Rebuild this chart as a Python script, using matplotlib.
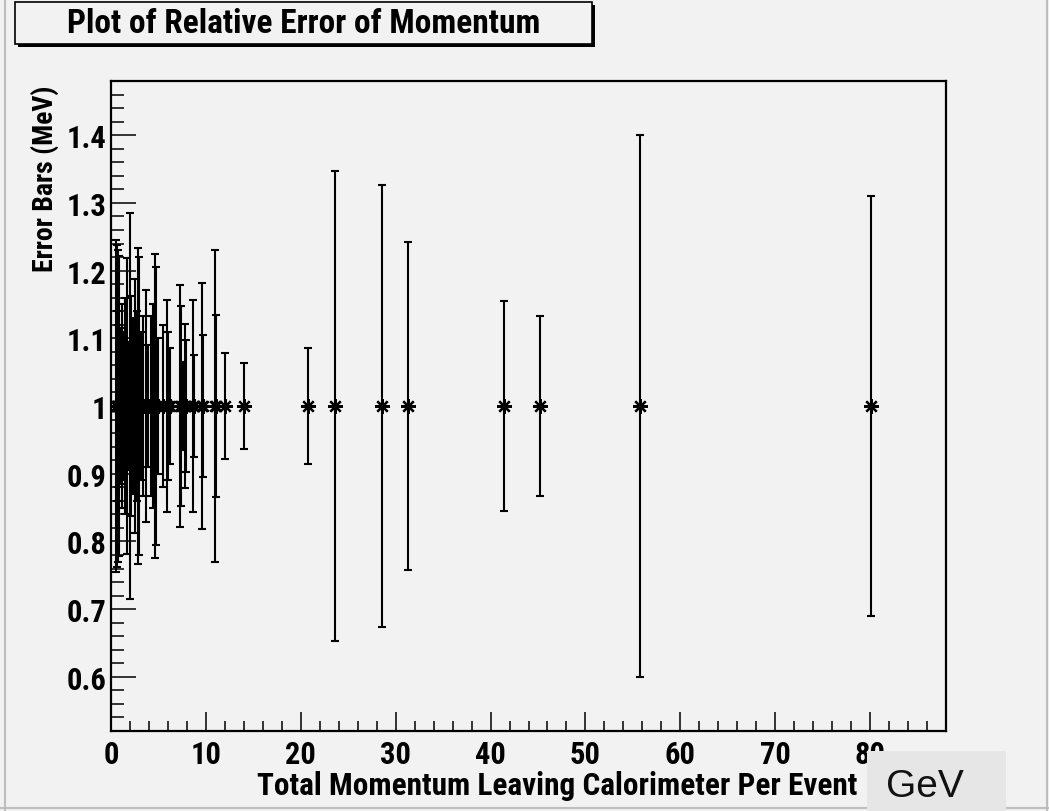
import numpy as np
import matplotlib
matplotlib.use("Agg")
import matplotlib.pyplot as plt
from matplotlib.patches import Rectangle
from matplotlib.lines import Line2D
from matplotlib.ticker import MultipleLocator, FuncFormatter

# --- data: momentum per event (GeV) and relative error ---
momentum = [0.5, 0.6, 0.65, 0.7, 0.75, 0.8, 0.9,
            1.2, 1.3, 1.5, 1.7, 1.9,
            2.0, 2.1, 2.3, 2.5, 2.7, 2.85,
            3.0, 3.2, 3.4, 3.7, 3.9,
            4.2, 4.4, 4.6, 4.75,
            5.0, 5.5, 5.9,
            6.0, 6.2,
            7.3, 7.4, 7.6, 7.8, 7.9,
            8.6, 8.7,
            9.6, 9.7,
            11.0, 11.1,
            12.0, 14.0,
            20.8, 23.6, 28.6, 31.3,
            41.4, 45.2, 55.8, 80.1]
rel_error = [1.0, 1.0, 1.0, 1.0, 1.0, 1.0, 1.0,
             1.0, 1.0, 1.0, 1.0, 1.0,
             1.0, 1.0, 1.0, 1.0, 1.0, 1.0,
             1.0, 1.0, 1.0, 1.0, 1.0,
             1.0, 1.0, 1.0, 1.0,
             1.0, 1.0, 1.0,
             1.0, 1.0,
             1.0, 1.0, 1.0, 1.0, 1.0,
             1.0, 1.0,
             1.0, 1.0,
             1.0, 1.0,
             1.0, 1.0,
             1.0, 1.0, 1.0, 1.0,
             1.0, 1.0, 1.0, 1.0]
err_bars = [0.245, 0.238, 0.140, 0.230, 0.120, 0.222, 0.115,
            0.150, 0.110, 0.160, 0.218, 0.095,
            0.285, 0.163, 0.130, 0.188, 0.140, 0.233,
            0.220, 0.110, 0.133, 0.172, 0.090,
            0.133, 0.150, 0.224, 0.205,
            0.100, 0.120, 0.157,
            0.110, 0.086,
            0.179, 0.147, 0.065, 0.121, 0.098,
            0.157, 0.076,
            0.182, 0.105,
            0.230, 0.135,
            0.078, 0.063,
            0.086, 0.347, 0.326, 0.242,
            0.155, 0.133, 0.400, 0.310]

title = "Plot of Relative Error of Momentum"
x_title = "Total Momentum Leaving Calorimeter Per Event"
y_title = "Error Bars (MeV)"
unit = "GeV"

bg = "#f2f2f2"
W, H = 1049, 812
narrow = ["Roboto Condensed", "PT Sans Narrow", "DejaVu Sans"]
bold = dict(family=narrow, weight="bold")

fig = plt.figure(figsize=(W / 100, H / 100), dpi=100, facecolor=bg)
ax = fig.add_axes([111 / W, 1 - 732 / H, (946 - 111) / W, (732 - 82) / H])
ax.set_facecolor(bg)

ax.errorbar(momentum, rel_error, yerr=err_bars, fmt="none", ecolor="black",
            elinewidth=1.5, capsize=2.6, capthick=1.5)
ax.plot(momentum, rel_error, linestyle="none", marker=(8, 2, 0),
        markersize=10.5, markeredgewidth=1.6, color="black")

ax.set_xlim(0, 88)
ax.set_ylim(0.52, 1.48)

ax.xaxis.set_major_locator(MultipleLocator(10))
ax.xaxis.set_minor_locator(MultipleLocator(2))
ax.yaxis.set_major_locator(MultipleLocator(0.1))
ax.yaxis.set_minor_locator(MultipleLocator(0.02))
ax.yaxis.set_major_formatter(FuncFormatter(lambda v, p: "%g" % round(v, 2)))

ax.tick_params(axis="x", which="major", direction="in", length=14, width=1.1,
               pad=6, labelsize=22)
ax.tick_params(axis="x", which="minor", direction="in", length=7, width=1.1)
ax.tick_params(axis="y", which="major", direction="in", length=18, width=1.1,
               pad=3, labelsize=22)
ax.tick_params(axis="y", which="minor", direction="in", length=9, width=1.1)
for lab in ax.get_xticklabels() + ax.get_yticklabels():
    lab.set_fontfamily(narrow)
    lab.set_fontweight("bold")

for s in ax.spines.values():
    s.set_linewidth(1.6)
    s.set_color("black")

# axis titles, aligned to the far end of each axis (ROOT style)
fig.text(857 / W, 1 - 786 / H, x_title, ha="right", va="center", fontsize=22.5, **bold)
fig.text(45 / W, 1 - 85 / H, y_title, ha="center", va="top", rotation=90,
         fontsize=20, **bold)

# title box with drop shadow
tb = (15, 3, 592, 45)
fig.add_artist(Rectangle(((tb[0] + 3) / W, 1 - (tb[3] + 3) / H),
                         (tb[2] - tb[0]) / W, (tb[3] - tb[1]) / H,
                         transform=fig.transFigure, facecolor="black",
                         edgecolor="none", zorder=5))
fig.add_artist(Rectangle((tb[0] / W, 1 - tb[3] / H),
                         (tb[2] - tb[0]) / W, (tb[3] - tb[1]) / H,
                         transform=fig.transFigure, facecolor=bg,
                         edgecolor="black", linewidth=1.2, zorder=6))
fig.text((tb[0] + tb[2]) / 2 / W, 1 - (tb[1] + tb[3]) / 2 / H, title,
         ha="center", va="center", fontsize=24, zorder=7, **bold)

# unit box in the lower right corner
fig.add_artist(Rectangle((867 / W, 0), (1006 - 867) / W, (812 - 752) / H,
                         transform=fig.transFigure, facecolor="#e6e6e6",
                         edgecolor="none", zorder=8))
fig.text(925 / W, 1 - 787 / H, unit, ha="center", va="center", fontsize=28,
         family="Liberation Sans", color="#111111", zorder=9)

# canvas border
for xs, ys in [((5 / W, 5 / W), (0, 1)),
               ((1047 / W, 1047 / W), (0, 1)),
               ((0, 1), (1 - 809 / H, 1 - 809 / H))]:
    fig.add_artist(Line2D(xs, ys, transform=fig.transFigure, color="#bdbdbd",
                          linewidth=1.5, zorder=1))

fig.savefig("out.png", dpi=100, facecolor=bg)
